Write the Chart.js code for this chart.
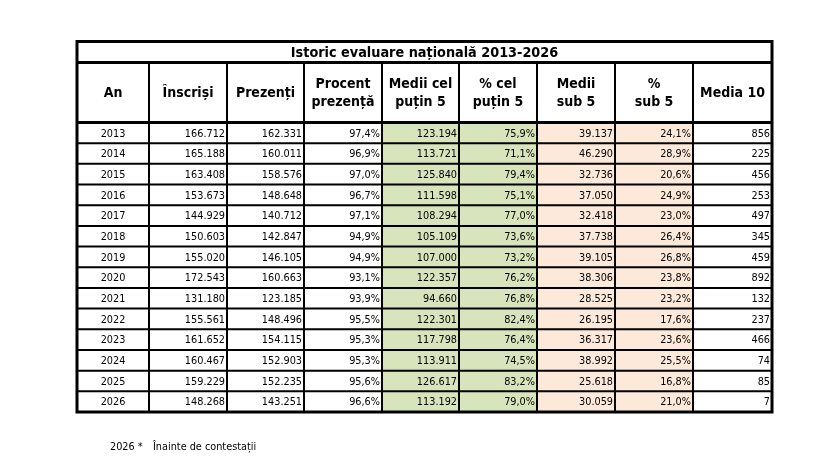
<!DOCTYPE html>
<html>
<head>
<meta charset="utf-8">
<script src="https://cdn.jsdelivr.net/npm/chart.js@4"></script>
<style>
  body { margin: 0; background: #fff; }
  #wrap { width: 817px; height: 469px; position: relative; }
</style>
</head>
<body>
<div id="wrap"><canvas id="tableChart"></canvas></div>
<script>
const TITLE = "Istoric evaluare națională 2013-2026";
const HEADERS = [
  ["An"], ["Înscriși"], ["Prezenți"], ["Procent", "prezență"],
  ["Medii cel", "puțin 5"], ["% cel", "puțin 5"], ["Medii", "sub 5"],
  ["%", "sub 5"], ["Media 10"],
];
const years = [2013, 2014, 2015, 2016, 2017, 2018, 2019, 2020, 2021, 2022, 2023, 2024, 2025, 2026];
const inscrisi = [166712, 165188, 163408, 153673, 144929, 150603, 155020, 172543, 131180, 155561, 161652, 160467, 159229, 148268];
const prezenti = [162331, 160011, 158576, 148648, 140712, 142847, 146105, 160663, 123185, 148496, 154115, 152903, 152235, 143251];
const procentPrezenta = [97.4, 96.9, 97.0, 96.7, 97.1, 94.9, 94.9, 93.1, 93.9, 95.5, 95.3, 95.3, 95.6, 96.6];
const mediiPeste5 = [123194, 113721, 125840, 111598, 108294, 105109, 107000, 122357, 94660, 122301, 117798, 113911, 126617, 113192];
const procentPeste5 = [75.9, 71.1, 79.4, 75.1, 77.0, 73.6, 73.2, 76.2, 76.8, 82.4, 76.4, 74.5, 83.2, 79.0];
const mediiSub5 = [39137, 46290, 32736, 37050, 32418, 37738, 39105, 38306, 28525, 26195, 36317, 38992, 25618, 30059];
const procentSub5 = [24.1, 28.9, 20.6, 24.9, 23.0, 26.4, 26.8, 23.8, 23.2, 17.6, 23.6, 25.5, 16.8, 21.0];
const media10 = [856, 225, 456, 253, 497, 345, 459, 892, 132, 237, 466, 74, 85, 7];
const FOOTNOTE = ["2026 *", "Înainte de contestații"];

// layout (table units)
const colEdges = [0, 72, 150, 227, 305, 382, 460, 538, 616, 695];
const titleBottom = 21;
const headerBottom = 81;
const rowH = 20.68;
const tableBottom = headerBottom + years.length * rowH;

const fmtInt = (n) => String(n).replace(/\B(?=(\d{3})+(?!\d))/g, ".");
const fmtPct = (v) => v.toFixed(1).replace(".", ",") + "%";

const columns = [
  years.map(String), inscrisi.map(fmtInt), prezenti.map(fmtInt), procentPrezenta.map(fmtPct),
  mediiPeste5.map(fmtInt), procentPeste5.map(fmtPct), mediiSub5.map(fmtInt), procentSub5.map(fmtPct),
  media10.map(String),
];

const rowCenter = (i) => headerBottom + rowH * (i + 0.5);

const tablePlugin = {
  id: "tablePlugin",
  afterDatasetsDraw(chart) {
    const { ctx, scales: { x, y } } = chart;
    const X = (v) => x.getPixelForValue(v);
    const Y = (v) => y.getPixelForValue(v);
    ctx.save();
    ctx.strokeStyle = "#000";

    // inner grid
    ctx.lineWidth = 2;
    for (let c = 1; c < colEdges.length - 1; c++) {
      ctx.beginPath();
      ctx.moveTo(X(colEdges[c]), Y(titleBottom));
      ctx.lineTo(X(colEdges[c]), Y(tableBottom));
      ctx.stroke();
    }
    for (let r = 1; r < years.length; r++) {
      ctx.beginPath();
      ctx.moveTo(X(0), Y(headerBottom + r * rowH));
      ctx.lineTo(X(695), Y(headerBottom + r * rowH));
      ctx.stroke();
    }
    // thick lines
    ctx.lineWidth = 3;
    [titleBottom, headerBottom].forEach((v) => {
      ctx.beginPath();
      ctx.moveTo(X(0), Y(v));
      ctx.lineTo(X(695), Y(v));
      ctx.stroke();
    });
    ctx.strokeRect(X(0), Y(0), X(695) - X(0), Y(tableBottom) - Y(0));

    // title
    ctx.fillStyle = "#000";
    ctx.textBaseline = "middle";
    ctx.textAlign = "center";
    ctx.font = "bold 14.3px 'DejaVu Sans Condensed', sans-serif";
    ctx.fillText(TITLE, (X(0) + X(695)) / 2, Y(titleBottom / 2) + 1);

    // headers
    ctx.font = "bold 14px 'DejaVu Sans Condensed', sans-serif";
    HEADERS.forEach((lines, c) => {
      const cx = (X(colEdges[c]) + X(colEdges[c + 1])) / 2;
      const cy = Y((titleBottom + headerBottom) / 2) + 1;
      if (lines.length === 1) {
        ctx.fillText(lines[0], cx, cy);
      } else {
        ctx.fillText(lines[0], cx, cy - 9);
        ctx.fillText(lines[1], cx, cy + 9);
      }
    });

    // cells
    ctx.font = "10.8px 'DejaVu Sans Condensed', sans-serif";
    columns.forEach((vals, c) => {
      vals.forEach((txt, r) => {
        const cy = Y(rowCenter(r)) + 1;
        if (c === 0) {
          ctx.textAlign = "center";
          ctx.fillText(txt, (X(colEdges[0]) + X(colEdges[1])) / 2, cy);
        } else {
          ctx.textAlign = "right";
          ctx.fillText(txt, X(colEdges[c + 1]) - 2, cy);
        }
      });
    });

    // footnote
    ctx.textAlign = "left";
    ctx.font = "10.8px 'DejaVu Sans Condensed', sans-serif";
    ctx.fillText(FOOTNOTE[0], 110, 447);
    ctx.fillText(FOOTNOTE[1], 153, 447);
    ctx.restore();
  },
};

const ctx = document.getElementById("tableChart");

const chart = new Chart(ctx, {
  type: "bar",
  data: {
    datasets: [
      {
        label: "Medii cel puțin 5",
        data: years.map((yr, i) => ({ x: [colEdges[4], colEdges[6]], y: rowCenter(i) })),
        backgroundColor: "#d8e4bc",
        categoryPercentage: 1,
        barPercentage: 1,
        grouped: false,
      },
      {
        label: "Medii sub 5",
        data: years.map((yr, i) => ({ x: [colEdges[6], colEdges[8]], y: rowCenter(i) })),
        backgroundColor: "#fde9d9",
        categoryPercentage: 1,
        barPercentage: 1,
        grouped: false,
      },
    ],
  },
  options: {
    indexAxis: "y",
    responsive: true,
    maintainAspectRatio: false,
    animation: false,
    layout: { padding: { left: 77, right: 45, top: 41.5, bottom: 469 - 41.5 - 370.5 } },
    scales: {
      x: { type: "linear", min: 0, max: 695, display: false },
      y: { type: "linear", min: 0, max: tableBottom, reverse: true, offset: false, display: false },
    },
    plugins: { legend: { display: false }, tooltip: { enabled: false } },
  },
  plugins: [tablePlugin],
});
</script>
</body>
</html>
